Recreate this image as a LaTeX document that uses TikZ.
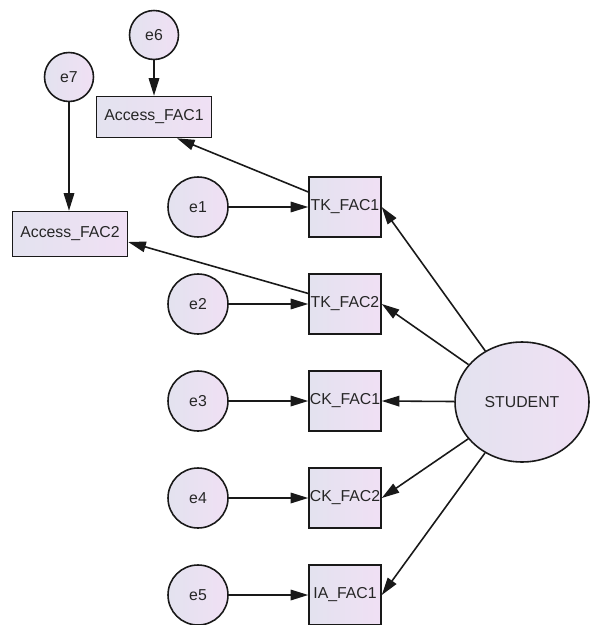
\documentclass[tikz,border=0pt]{standalone}
\usepackage{fontspec}
\setmainfont{Liberation Sans}
\usetikzlibrary{arrows.meta,shapes.geometric,positioning}
\definecolor{amosleft}{RGB}{227,226,239}
\definecolor{amosright}{RGB}{240,224,244}
\tikzset{
	>={Triangle[length=10pt,width=6pt]},
	every node/.append style={font=\fontsize{9}{10}\selectfont, text=black!85},
	errvar/.style = {
			circle,
			draw            = black!90,
			line width      = 0.9pt,
			left color      = amosleft,
			right color     = amosright,
			minimum size    = 1.2cm,
			inner sep       = 0pt,
		},
	obsvar/.style = {
			rectangle,
			draw            = black!90,
			line width      = 0.9pt,
			left color      = amosleft,
			right color     = amosright,
			minimum width   = 1.44cm,
			minimum height  = 1.2cm,
			inner sep       = 0pt,
		},
	latvar/.style = {
			ellipse,
			draw            = black!90,
			line width      = 0.9pt,
			left color      = amosleft,
			right color     = amosright,
			minimum width   = 2.68cm,
			minimum height  = 2.4cm,
			inner sep       = 0pt,
		},
	path/.style = {->, line width=0.9pt, black!90}
}

\begin{document}
\begin{tikzpicture}[x=0.02cm, y=-0.02cm]
	\useasboundingbox[fill=white] (0,0) rectangle (590,625);
	% latent variable
	\node[latvar] (student) at (522,402) {STUDENT};
	% observed variables
	\node[obsvar] (tk1) at (345,207) {TK\_FAC1};
	\node[obsvar] (tk2) at (345,304) {TK\_FAC2};
	\node[obsvar] (ck1) at (345,401) {CK\_FAC1};
	\node[obsvar] (ck2) at (345,498) {CK\_FAC2};
	\node[obsvar] (ia1) at (345,595) {IA\_FAC1};
	\node[obsvar, minimum width=2.3cm, minimum height=0.82cm] (acc1) at (154,117) {Access\_FAC1};
	\node[obsvar, minimum width=2.3cm, minimum height=0.9cm] (acc2) at (70,234) {Access\_FAC2};
	% errors
	\foreach \i/\y in {1/207, 2/304, 3/401, 4/498, 5/595}
		\node[errvar] (e\i) at (198,\y) {e\i};
	\node[errvar, minimum size=0.98cm] (e6) at (154,35) {e6};
	\node[errvar, minimum size=0.98cm] (e7) at (69,77) {e7};
	% paths
	\foreach \v in {tk1, tk2, ck1, ck2, ia1}
		\draw[path] (student) -- (\v.east);
	\foreach \i/\v in {1/tk1, 2/tk2, 3/ck1, 4/ck2, 5/ia1}
		\draw[path] (e\i) -- (\v);
	\draw[path] (e6) -- (acc1);
	\draw[path] (e7) -- (e7 |- acc2.north);
	\draw[path] (tk1) -- ([xshift=23*0.02cm]acc1.south);
	\draw[path] (tk2) -- ([yshift=-8*0.02cm]acc2.east);
\end{tikzpicture}
\end{document}
